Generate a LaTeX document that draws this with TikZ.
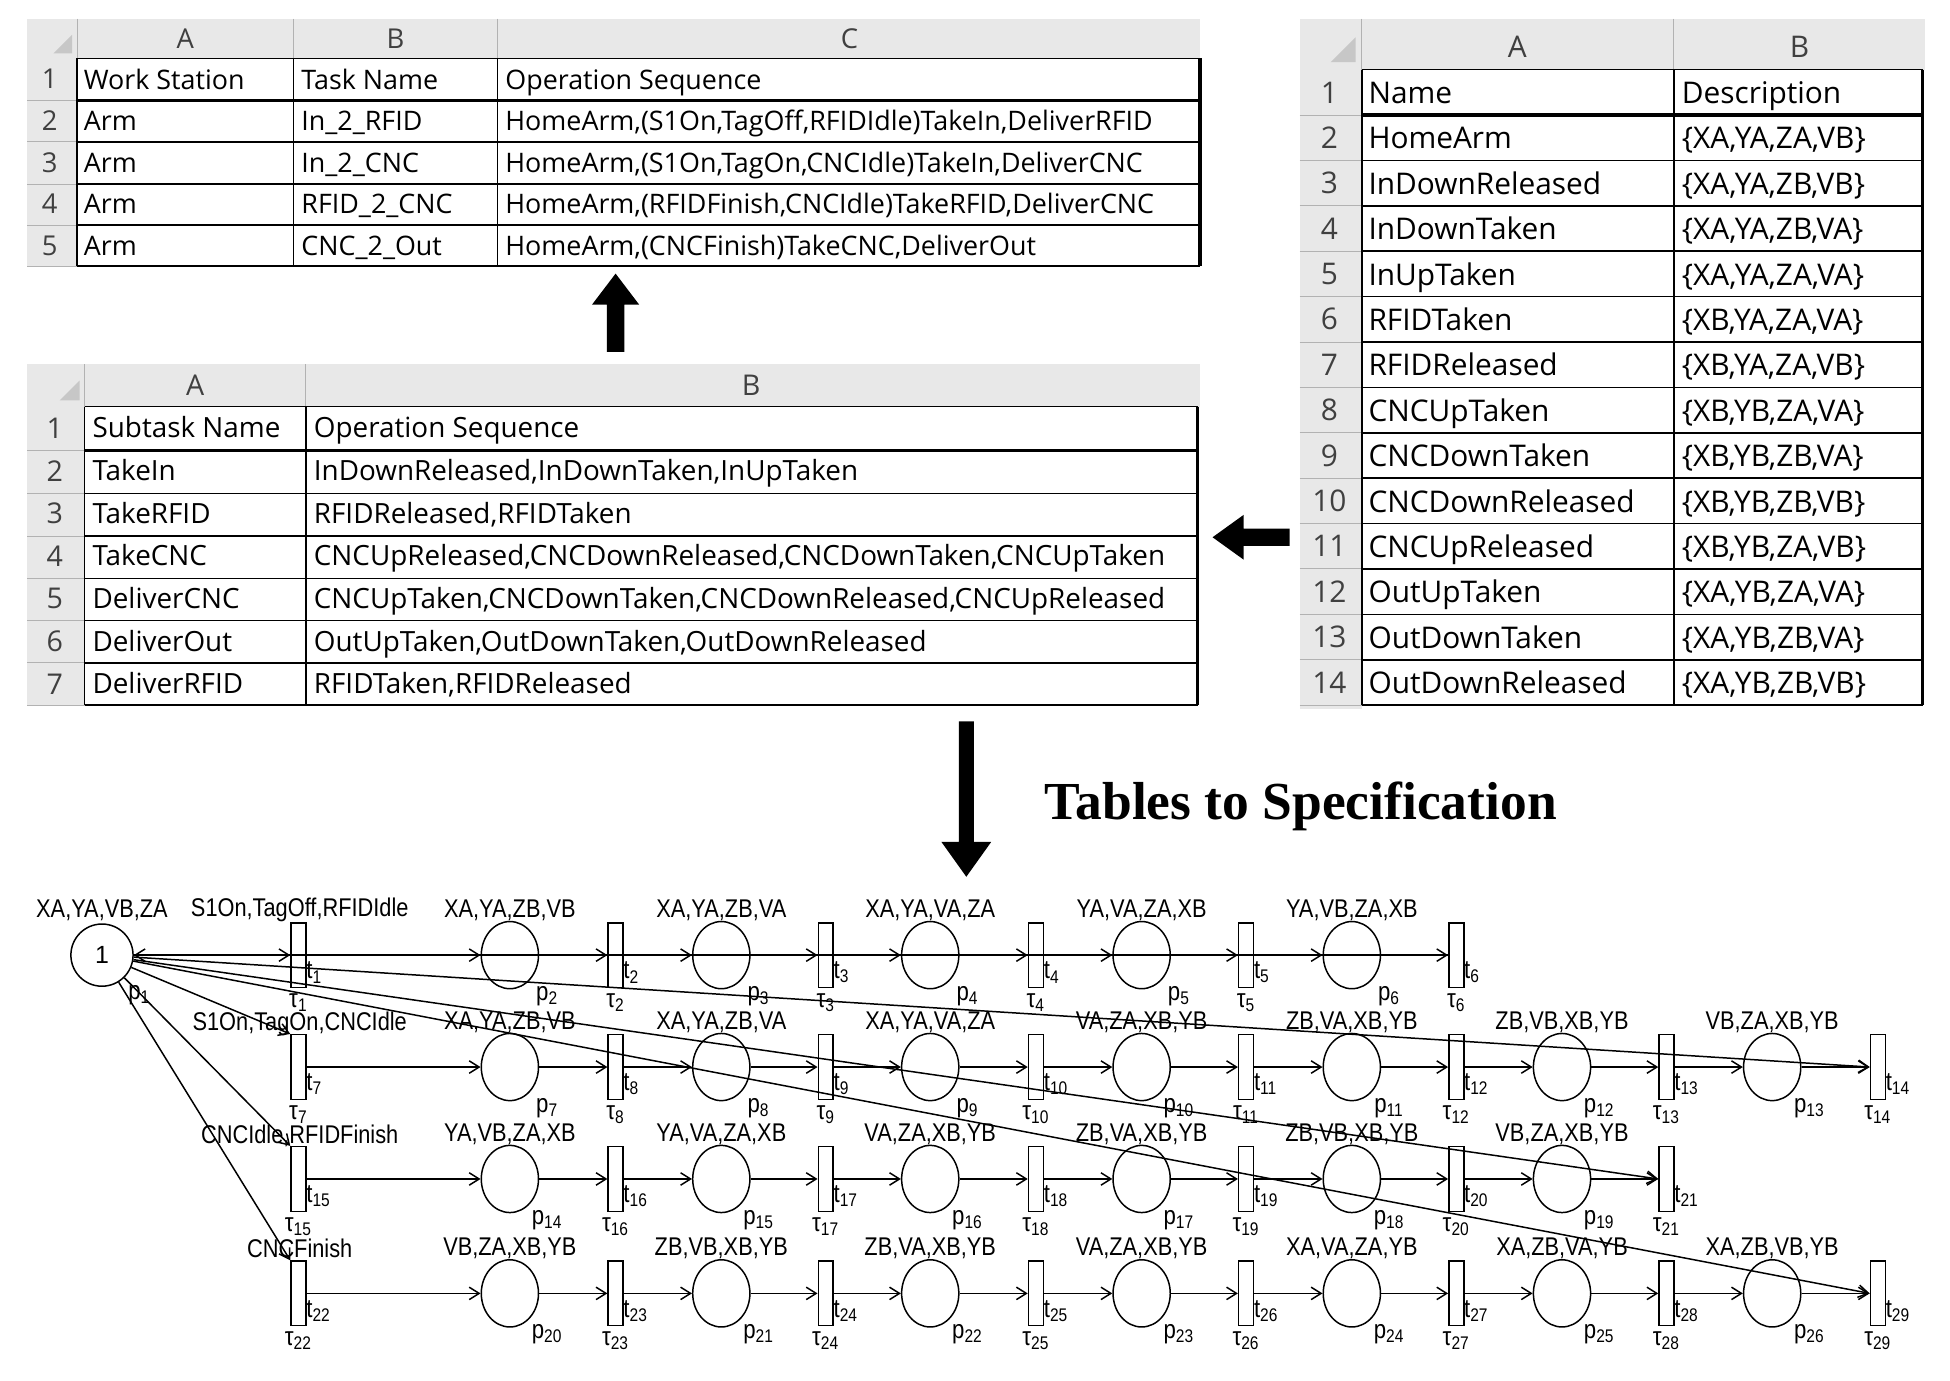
\documentclass[tikz,border=0pt]{standalone}
\usepackage{fontspec}
\setmainfont{Liberation Sans}
\newfontfamily\xl{Open Sans}
\newfontfamily\tnr{Liberation Serif}
\usetikzlibrary{arrows.meta,shapes.geometric,calc}
\newcommand\petrirow[5]{%
 \foreach \i in {1,...,#3}{
   \pgfmathtruncatemacro\tid{#2+\i-1}
   \pgfmathsetmacro\tx{{240,495,664,833,1002,1171,1340,1510}[\i-1]}
   \node[trans] (t\tid) at (\tx,#1) {};
   \node[sub,anchor=west] (tl\tid) at (\tx+6,#1+14) {t\textsubscript{\tid}};
   \node[sub] (tt\tid) at (\tx,#1+38) {τ\textsubscript{\tid}};
 }
 \foreach \lab [count=\i] in {#5}{
   \pgfmathtruncatemacro\pid{#4+\i-1}
   \pgfmathtruncatemacro\ta{#2+\i-1}
   \pgfmathtruncatemacro\tb{#2+\i}
   \pgfmathsetmacro\px{{410,580,748,918,1087,1256,1425}[\i-1]}
   \node[place] (p\pid) at (\px,#1) {};
   \node[pl] (pm\pid) at (\px,#1-36) {\lab};
   \node[sub] (pn\pid) at (\px+30,#1+33) {p\textsubscript{\pid}};
   \draw[arc] (t\ta) -- (p\pid);
   \draw[arc] (p\pid) -- (t\tb);
 }
}
\begin{document}
\begin{tikzpicture}[x=0.5pt,y=-0.5pt,
  c1/.style={anchor=base west,inner sep=0,font=\xl\fontsize{10.8}{12}\selectfont},
  c2/.style={anchor=base west,inner sep=0,font=\xl\fontsize{11.2}{13}\selectfont},
  c3/.style={anchor=base west,inner sep=0,font=\xl\fontsize{12}{14}\selectfont},
  hd/.style={inner sep=0,text=black!75},
  hdr/.style={fill=black!9},
  grid/.style={black,line width=0.6pt},
  hgrid/.style={black!30,line width=0.4pt},
  corner/.style={fill=black!22},
  blk/.style={fill=black},
  place/.style={ellipse,draw,line width=0.6pt,minimum width=23pt,minimum height=27pt,inner sep=0},
  trans/.style={rectangle,draw,line width=0.6pt,minimum width=6pt,minimum height=26pt,inner sep=0},
  pl/.style={inner sep=0,font=\fontsize{10.3}{11}\selectfont,xscale=0.85,transform shape},
  sub/.style={inner sep=0,font=\fontsize{10.5}{11}\selectfont,xscale=0.85,transform shape},
  arc/.style={-{Straight Barb[length=4pt,width=5pt]},line width=0.6pt}
]
\useasboundingbox (0,0) rectangle (1568,1110);
% ---------- Table 1
\fill[hdr] (22,15) rectangle (965,47);
\fill[hdr] (22,47) rectangle (62,215);
\fill[corner] (58,28) -- (58,43) -- (43,43) -- cycle;
\foreach \x in {62,236,400} \draw[hgrid] (\x,15) -- (\x,47);
\foreach \y in {81,114,148,181,214} \draw[hgrid] (22,\y) -- (62,\y);
\foreach \y in {47,81,114,148,181,214} \draw[grid] (62,\y) -- (965,\y);
\foreach \x in {62,236,400,965} \draw[grid] (\x,47) -- (\x,214);
\draw[line width=1.3pt] (62,81) -- (965,81);
\draw[line width=1.3pt] (965,47) -- (965,214);
\node[hd,font=\xl\fontsize{11}{12}\selectfont] (T1A) at (149,31) {A};
\node[hd,font=\xl\fontsize{11}{12}\selectfont] (T1B) at (318,31) {B};
\node[hd,font=\xl\fontsize{11}{12}\selectfont] (T1C) at (683,31) {C};
\foreach \r/\a/\b/\c in {1/Work Station/Task Name/Operation Sequence,
  2/Arm/In\_2\_RFID/{HomeArm,(S1On,TagOff,RFIDIdle)TakeIn,DeliverRFID},
  3/Arm/In\_2\_CNC/{HomeArm,(S1On,TagOn,CNCIdle)TakeIn,DeliverCNC},
  4/Arm/RFID\_2\_CNC/{HomeArm,(RFIDFinish,CNCIdle)TakeRFID,DeliverCNC},
  5/Arm/CNC\_2\_Out/{HomeArm,(CNCFinish)TakeCNC,DeliverOut}}{
  \pgfmathsetmacro\yy{47+33.4*(\r-0.5)}
  \node[hd,font=\xl\fontsize{11}{12}\selectfont] (T1n\r) at (40,\yy) {\r};
  \node[c1] (T1a\r) at (67,\yy+8) {\a};
  \node[c1] (T1b\r) at (242,\yy+8) {\b};
  \node[c1] (T1c\r) at (406,\yy+8) {\c};
}
% ---------- Table 2
\fill[hdr] (22,293) rectangle (965,327);
\fill[hdr] (22,327) rectangle (68,568);
\fill[corner] (64,306) -- (64,322) -- (48,322) -- cycle;
\foreach \x in {68,246} \draw[hgrid] (\x,293) -- (\x,327);
\foreach \y in {362,397,431,465,499,533,567} \draw[hgrid] (22,\y) -- (68,\y);
\foreach \y in {327,362,397,431,465,499,533,567} \draw[grid] (68,\y) -- (963,\y);
\foreach \x in {68,246,963} \draw[grid] (\x,327) -- (\x,567);
\draw[line width=1.3pt] (68,362) -- (963,362);
\draw[line width=1.3pt] (963,327) -- (963,567);
\node[hd,font=\xl\fontsize{11.5}{12}\selectfont] (T2A) at (157,310) {A};
\node[hd,font=\xl\fontsize{11.5}{12}\selectfont] (T2B) at (604,310) {B};
\foreach \r/\a/\b in {1/Subtask Name/Operation Sequence,
  2/TakeIn/{InDownReleased,InDownTaken,InUpTaken},
  3/TakeRFID/{RFIDReleased,RFIDTaken},
  4/TakeCNC/{CNCUpReleased,CNCDownReleased,CNCDownTaken,CNCUpTaken},
  5/DeliverCNC/{CNCUpTaken,CNCDownTaken,CNCDownReleased,CNCUpReleased},
  6/DeliverOut/{OutUpTaken,OutDownTaken,OutDownReleased},
  7/DeliverRFID/{RFIDTaken,RFIDReleased}}{
  \pgfmathsetmacro\yy{327+34.3*(\r-0.5)}
  \node[hd,font=\xl\fontsize{11.5}{12}\selectfont] (T2n\r) at (44,\yy) {\r};
  \node[c2] (T2a\r) at (74,\yy+8) {\a};
  \node[c2] (T2b\r) at (252,\yy+8) {\b};
}
% ---------- Table 3
\fill[hdr] (1045,15) rectangle (1548,56);
\fill[hdr] (1045,56) rectangle (1095,570);
\fill[corner] (1090,30) -- (1090,50) -- (1070,50) -- cycle;
\foreach \x in {1095,1346} \draw[hgrid] (\x,15) -- (\x,56);
\foreach \r in {1,...,14} \draw[hgrid] (1045,56+36.5*\r) -- (1095,56+36.5*\r);
\foreach \r in {0,...,14} \draw[grid] (1095,56+36.5*\r) -- (1546,56+36.5*\r);
\foreach \x in {1095,1346,1546} \draw[grid] (\x,56) -- (\x,567);
\draw[line width=1.3pt] (1095,92.5) -- (1546,92.5);
\draw[line width=1.3pt] (1546,56) -- (1546,567);
\node[hd,font=\xl\fontsize{12}{13}\selectfont] (T3A) at (1220,38) {A};
\node[hd,font=\xl\fontsize{12}{13}\selectfont] (T3B) at (1447,38) {B};
\foreach \r/\a/\b in {1/Name/Description,
  2/HomeArm/{\{XA,YA,ZA,VB\}},
  3/InDownReleased/{\{XA,YA,ZB,VB\}},
  4/InDownTaken/{\{XA,YA,ZB,VA\}},
  5/InUpTaken/{\{XA,YA,ZA,VA\}},
  6/RFIDTaken/{\{XB,YA,ZA,VA\}},
  7/RFIDReleased/{\{XB,YA,ZA,VB\}},
  8/CNCUpTaken/{\{XB,YB,ZA,VA\}},
  9/CNCDownTaken/{\{XB,YB,ZB,VA\}},
  10/CNCDownReleased/{\{XB,YB,ZB,VB\}},
  11/CNCUpReleased/{\{XB,YB,ZA,VB\}},
  12/OutUpTaken/{\{XA,YB,ZA,VA\}},
  13/OutDownTaken/{\{XA,YB,ZB,VA\}},
  14/OutDownReleased/{\{XA,YB,ZB,VB\}}}{
  \pgfmathsetmacro\yy{56+36.5*(\r-0.5)}
  \node[hd,font=\xl\fontsize{12}{13}\selectfont] (T3n\r) at (1069,\yy) {\r};
  \node[c3] (T3a\r) at (1100,\yy+9) {\a};
  \node[c3] (T3b\r) at (1352,\yy+9) {\b};
}
% ---------- block arrows
\fill[blk] (488,283) -- (502,283) -- (502,245) -- (514,245) -- (495,220) -- (476,245) -- (488,245) -- cycle;
\fill[blk] (1037,425) -- (1037,439) -- (1000,439) -- (1000,450) -- (975,432) -- (1000,414) -- (1000,425) -- cycle;
\fill[blk] (771,580) -- (783,580) -- (783,677) -- (797,677) -- (777,705) -- (757,677) -- (771,677) -- cycle;
\node[inner sep=0,font=\tnr\bfseries\fontsize{21.5}{23}\selectfont] (title) at (1046,648) {Tables to Specification};
% ---------- Petri net
\node[place,minimum width=25pt,minimum height=25pt,font=\fontsize{10}{11}\selectfont] (p1) at (82,768) {1};
\node[pl] (pm1) at (82,732) {XA,YA,VB,ZA};
\node[sub] (pn1) at (112,800) {p\textsubscript{1}};
\node[pl] (g1) at (241,732) {S1On,TagOff,RFIDIdle};
\node[pl] (g2) at (241,823) {S1On,TagOn,CNCIdle};
\node[pl] (g3) at (241,913) {CNCIdle,RFIDFinish};
\node[pl] (g4) at (241,1004) {CNCFinish};
\petrirow{768}{1}{6}{2}{{XA,YA,ZB,VB},{XA,YA,ZB,VA},{XA,YA,VA,ZA},{YA,VA,ZA,XB},{YA,VB,ZA,XB}}
\petrirow{858}{7}{8}{7}{{XA,YA,ZB,VB},{XA,YA,ZB,VA},{XA,YA,VA,ZA},{VA,ZA,XB,YB},{ZB,VA,XB,YB},{ZB,VB,XB,YB},{VB,ZA,XB,YB}}
\petrirow{948}{15}{7}{14}{{YA,VB,ZA,XB},{YA,VA,ZA,XB},{VA,ZA,XB,YB},{ZB,VA,XB,YB},{ZB,VB,XB,YB},{VB,ZA,XB,YB}}
\petrirow{1040}{22}{8}{20}{{VB,ZA,XB,YB},{ZB,VB,XB,YB},{ZB,VA,XB,YB},{VA,ZA,XB,YB},{XA,VA,ZA,YB},{XA,ZB,VA,YB},{XA,ZB,VB,YB}}
\draw[arc] (p1) -- (t1);
\draw[arc] (t6) -- (p1);
\draw[arc] (p1) -- (t7.north west);
\draw[arc] (p1) -- (t15.north west);
\draw[arc] (p1) -- (t22.north west);
\draw[arc] (p1) -- (t14.west);
\draw[arc] (p1) -- (t21.west);
\draw[arc] (p1) -- (t29.west);
\end{tikzpicture}
\end{document}
